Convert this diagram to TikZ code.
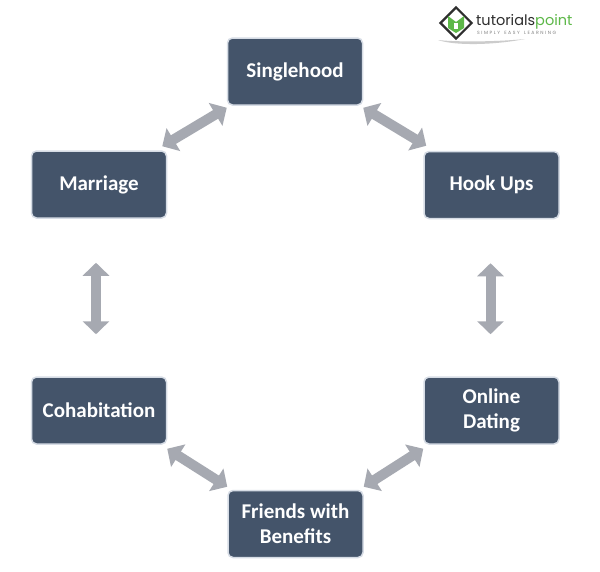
\documentclass[tikz,border=0pt]{standalone}
\usepackage{fontspec}
\setmainfont{Carlito}
\newfontfamily\logofont{Poppins}
\usetikzlibrary{arrows.meta}
\definecolor{boxfill}{HTML}{44546A}
\definecolor{boxline}{HTML}{D6DCE5}
\definecolor{arrowgray}{HTML}{A6A9B1}
\definecolor{logogreen}{HTML}{5DB848}
\definecolor{logodark}{HTML}{2E2E2E}
\tikzset{
  stage/.style={draw=boxline, line width=1.5pt, fill=boxfill, rounded corners=5pt,
    minimum width=135pt, minimum height=67pt, text=white, align=center,
    font=\fontsize{21}{25}\selectfont\bfseries, inner sep=2pt},
  dblarrow/.style={draw=arrowgray, line width=10pt,
    {Triangle[length=13pt,width=26pt]}-{Triangle[length=13pt,width=26pt]}},
}
\begin{document}
\begin{tikzpicture}[x=1pt,y=-1pt]
\useasboundingbox (0,0) rectangle (600,571);
\fill[white] (0,0) rectangle (600,571);
% logo
\node[draw=logodark, line width=2.2pt, fill=white, rotate=45, minimum size=22pt, inner sep=0pt] (logod) at (456,23) {};
\fill[logogreen] (448,16) -- (456,22) -- (464,16) -- (464,28) -- (456,33) -- (448,28) -- cycle;
\fill[white] (454,23) rectangle (458,29);
\fill[gray!40] (438,40) .. controls (455,46) and (495,45) .. (525,39) .. controls (495,42) and (455,42) .. (438,40);
\node[anchor=west, inner sep=0pt, font=\logofont\fontsize{14.5}{14.5}\selectfont] (logot) at (476,22) {\textcolor{logodark}{tutorials}\textcolor{logogreen}{point}};
\node[anchor=west, inner sep=0pt, font=\logofont\fontsize{4.6}{5}\selectfont, text=gray] (logos) at (477,32.5) {S\,\,I\,\,M\,\,P\,\,L\,\,Y\enspace\, E\,\,A\,\,S\,\,Y\enspace\, L\,\,E\,\,A\,\,R\,\,N\,\,I\,\,N\,\,G};
% boxes
\node[stage] (single) at (295,71.5) {Singlehood};
\node[stage] (marriage) at (99,184.5) {Marriage};
\node[stage] (hook) at (491.5,185) {Hook Ups};
\node[stage] (cohab) at (99,410.5) {Cohabitation};
\node[stage] (online) at (491.5,410.5) {Online\\Dating};
\node[stage] (friends) at (295.5,524) {Friends with\\Benefits};
% arrows
\draw[dblarrow] ([yshift=-2pt]single.south west) -- ([shift={(-5pt,4pt)}]marriage.north east);
\draw[dblarrow] ([yshift=-2pt]single.south east) -- ([shift={(3pt,5pt)}]hook.north west);
\draw[dblarrow] ([xshift=-3pt,yshift=-44pt]marriage.south) -- ([xshift=-3pt,yshift=42pt]cohab.north);
\draw[dblarrow] ([xshift=-1pt,yshift=-44pt]hook.south) -- ([xshift=-1pt,yshift=42pt]online.north);
\draw[dblarrow] ([yshift=-4pt]cohab.south east) -- ([yshift=3pt]friends.north west);
\draw[dblarrow] ([yshift=-4pt]online.south west) -- ([yshift=3pt]friends.north east);
\end{tikzpicture}
\end{document}
